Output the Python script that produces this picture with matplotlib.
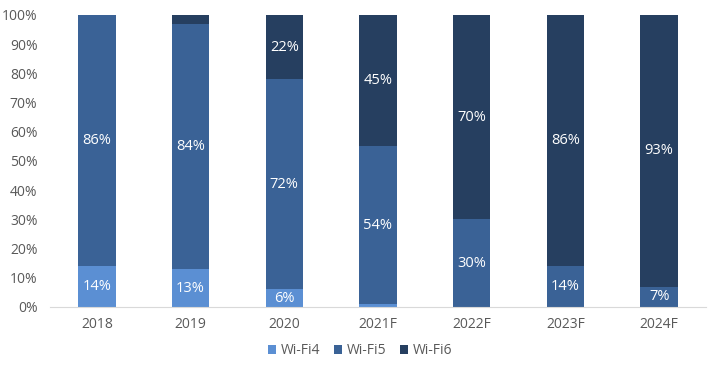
import matplotlib
matplotlib.use("Agg")
import matplotlib.pyplot as plt
import numpy as np
from matplotlib.ticker import PercentFormatter

plt.rcParams['font.family'] = ['Open Sans', 'DejaVu Sans']

categories = ["2018", "2019", "2020", "2021F", "2022F", "2023F", "2024F"]
wifi4 = [14, 13, 6, 1, 0, 0, 0]
wifi5 = [86, 84, 72, 54, 30, 14, 7]
wifi6 = [0, 3, 22, 45, 70, 86, 93]
series_names = ["Wi-Fi4", "Wi-Fi5", "Wi-Fi6"]
colors = ["#5B8FD3", "#3A6296", "#263F60"]
label_min = 5

fig = plt.figure(figsize=(7.2, 3.73), dpi=100)
ax = fig.add_axes([50/720, 1 - 307/373, 656/720, 292/373])

x = np.arange(len(categories))
bottom = np.zeros(len(categories))
for name, vals, c in zip(series_names, [wifi4, wifi5, wifi6], colors):
    vals = np.array(vals, dtype=float)
    ax.bar(x, vals, width=0.4, bottom=bottom, color=c, label=name)
    for xi, b, v in zip(x, bottom, vals):
        if v >= label_min:
            ax.text(xi, b + v / 2, f"{int(v)}%", ha="center", va="center",
                    color="white", fontsize=10.5)
    bottom += vals

ax.set_xlim(-0.5, len(categories) - 0.5)
ax.set_ylim(0, 100)
ax.set_yticks(np.arange(0, 101, 10))
ax.yaxis.set_major_formatter(PercentFormatter(decimals=0))
ax.set_xticks(x)
ax.set_xticklabels(categories)
for s in ["top", "right", "left"]:
    ax.spines[s].set_visible(False)
ax.spines["bottom"].set_color("#D9D9D9")
ax.tick_params(axis="both", length=0, colors="#595959", labelsize=10)
ax.tick_params(axis="y", pad=9)
ax.tick_params(axis="x", pad=7)

leg = fig.legend(loc="center", bbox_to_anchor=(0.5, 1 - 351/373), ncol=3,
                 frameon=False, fontsize=10, handlelength=0.6, handleheight=0.6,
                 handletextpad=0.3, columnspacing=1.0)
for t in leg.get_texts():
    t.set_color("#595959")

fig.savefig("out.png", dpi=100)
